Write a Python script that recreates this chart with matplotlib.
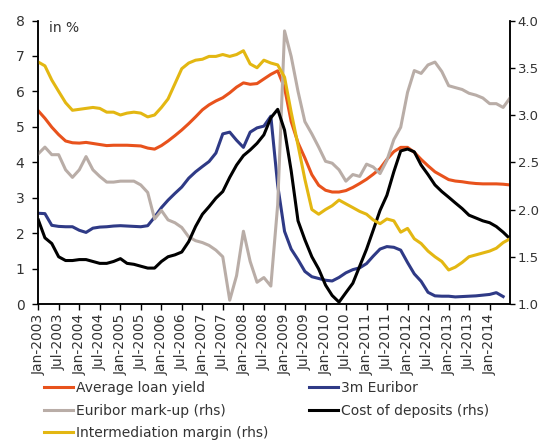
import numpy as np
import pandas as pd
import matplotlib
matplotlib.use('Agg')
import matplotlib.pyplot as plt

# bi-monthly observations, Jan-2003 .. Jul-2014
dates = pd.date_range('2003-01-01', periods=70, freq='2MS')

# left axis (in %)
loan_yield = [5.45, 5.24, 4.99, 4.78, 4.60, 4.55, 4.54, 4.56, 4.53, 4.50,
              4.47, 4.48, 4.48, 4.48, 4.47, 4.46, 4.40, 4.37, 4.47, 4.60,
              4.75, 4.91, 5.09, 5.28, 5.48, 5.62, 5.73, 5.82, 5.96, 6.12,
              6.24, 6.20, 6.22, 6.35, 6.48, 6.58, 6.10, 5.15, 4.55, 4.12,
              3.65, 3.35, 3.21, 3.16, 3.16, 3.20, 3.29, 3.40, 3.52, 3.66,
              3.82, 4.08, 4.30, 4.42, 4.42, 4.28, 4.08, 3.90, 3.73, 3.62,
              3.51, 3.47, 3.45, 3.42, 3.40, 3.39, 3.39, 3.39, 3.38, 3.36]

euribor_3m = [2.56, 2.55, 2.22, 2.19, 2.18, 2.18, 2.08, 2.02, 2.14, 2.17,
              2.18, 2.20, 2.21, 2.20, 2.19, 2.18, 2.21, 2.45, 2.72, 2.93,
              3.12, 3.30, 3.55, 3.73, 3.88, 4.02, 4.26, 4.80, 4.85, 4.62,
              4.42, 4.85, 4.97, 5.02, 5.30, 3.35, 2.05, 1.55, 1.25, 0.92,
              0.77, 0.72, 0.67, 0.65, 0.75, 0.88, 0.97, 1.02, 1.14, 1.35,
              1.55, 1.62, 1.60, 1.52, 1.17, 0.85, 0.64, 0.33, 0.23, 0.22,
              0.22, 0.20, 0.21, 0.22, 0.23, 0.25, 0.27, 0.32, 0.21, np.nan]

# right axis (rhs)
markup = [2.59, 2.66, 2.58, 2.58, 2.42, 2.34, 2.42, 2.56, 2.42, 2.35,
          2.29, 2.29, 2.30, 2.30, 2.30, 2.26, 2.18, 1.90, 1.99, 1.89,
          1.86, 1.81, 1.71, 1.67, 1.65, 1.62, 1.57, 1.50, 1.04, 1.30,
          1.77, 1.45, 1.23, 1.28, 1.19, 2.05, 3.89, 3.62, 3.25, 2.93,
          2.80, 2.66, 2.51, 2.49, 2.42, 2.30, 2.37, 2.35, 2.48, 2.45,
          2.38, 2.52, 2.74, 2.87, 3.24, 3.47, 3.44, 3.53, 3.56, 3.46,
          3.31, 3.29, 3.27, 3.23, 3.21, 3.18, 3.12, 3.12, 3.08, 3.18]

cost_deposits = [1.89, 1.70, 1.64, 1.50, 1.46, 1.46, 1.47, 1.47, 1.45, 1.43,
                 1.43, 1.45, 1.48, 1.43, 1.42, 1.40, 1.38, 1.38, 1.45, 1.50,
                 1.52, 1.55, 1.66, 1.82, 1.95, 2.03, 2.12, 2.19, 2.34, 2.47,
                 2.57, 2.63, 2.70, 2.79, 2.97, 3.06, 2.84, 2.41, 1.88, 1.68,
                 1.50, 1.37, 1.20, 1.09, 1.02, 1.12, 1.22, 1.40, 1.58, 1.78,
                 1.99, 2.15, 2.40, 2.62, 2.64, 2.61, 2.47, 2.37, 2.26, 2.19,
                 2.13, 2.07, 2.01, 1.94, 1.91, 1.88, 1.86, 1.82, 1.76, 1.69]

interm_margin = [3.56, 3.52, 3.37, 3.25, 3.13, 3.05, 3.06, 3.07, 3.08, 3.07,
                 3.03, 3.03, 3.00, 3.02, 3.03, 3.02, 2.98, 3.00, 3.08, 3.17,
                 3.33, 3.49, 3.55, 3.58, 3.59, 3.62, 3.62, 3.64, 3.62, 3.64,
                 3.68, 3.54, 3.50, 3.58, 3.55, 3.53, 3.40, 3.03, 2.68, 2.32,
                 2.00, 1.95, 2.00, 2.04, 2.10, 2.06, 2.02, 1.98, 1.95, 1.89,
                 1.85, 1.90, 1.88, 1.76, 1.80, 1.69, 1.64, 1.56, 1.50, 1.45,
                 1.36, 1.39, 1.44, 1.50, 1.52, 1.54, 1.56, 1.59, 1.65, 1.69]

tick_dates = pd.date_range('2003-01-01', '2014-01-01', freq='6MS')
tick_labels = [d.strftime('%b-%Y') for d in tick_dates]

labels = ['Average loan yield', '3m Euribor', 'Euribor mark-up (rhs)',
          'Cost of deposits (rhs)', 'Intermediation margin (rhs)']
colors = {'orange': '#E8521C', 'blue': '#2F3A86', 'gray': '#B9ADA7',
          'black': '#000000', 'yellow': '#E3B712'}

W, H = 540, 443
fig = plt.figure(figsize=(W / 100, H / 100), dpi=100)
ax = fig.add_axes([38.3 / W, 1 - 304 / H, (510 - 38.3) / W, (304 - 20.5) / H])
ax2 = ax.twinx()

lw = 2.2
l1, = ax.plot(dates, loan_yield, color=colors['orange'], lw=lw)
l2, = ax.plot(dates, euribor_3m, color=colors['blue'], lw=lw)
l3, = ax2.plot(dates, markup, color=colors['gray'], lw=lw)
l4, = ax2.plot(dates, cost_deposits, color=colors['black'], lw=lw)
l5, = ax2.plot(dates, interm_margin, color=colors['yellow'], lw=lw)

ax.set_xlim(pd.Timestamp('2003-01-01'), pd.Timestamp('2014-07-01'))
ax.set_ylim(0, 8)
ax2.set_ylim(1.0, 4.0)
ax.set_yticks(range(0, 9))
ax2.set_yticks(np.arange(1.0, 4.01, 0.5))
ax2.set_yticklabels([f'{v:.1f}' for v in np.arange(1.0, 4.01, 0.5)])
ax.set_xticks(tick_dates)
ax.set_xticklabels(tick_labels, rotation=90)

tc = '#333333'
for a in (ax, ax2):
    a.spines['top'].set_visible(False)
    for s in a.spines.values():
        s.set_linewidth(1.1)
        s.set_color('black')
    a.tick_params(direction='out', length=4, width=1, colors='black',
                  labelcolor=tc, labelsize=10)
ax.tick_params(axis='y', pad=6)
ax2.tick_params(axis='y', length=3.5, pad=2, labelsize=9.5)
ax.tick_params(axis='x', pad=3)

fig.text(49 / W, 1 - 28 / H, 'in %', ha='left', va='center', fontsize=10, color=tc)

fig.legend([l1, l3, l5, l2, l4],
           [labels[0], labels[2], labels[4], labels[1], labels[3]],
           ncol=2, loc='upper left', bbox_to_anchor=(44 / W, 1 - 381 / H),
           frameon=False, fontsize=10, handlelength=2.1, handletextpad=0.2,
           columnspacing=2.9, labelspacing=0.62, borderpad=0, borderaxespad=0,
           labelcolor=tc)

fig.savefig('out.png', dpi=100)
